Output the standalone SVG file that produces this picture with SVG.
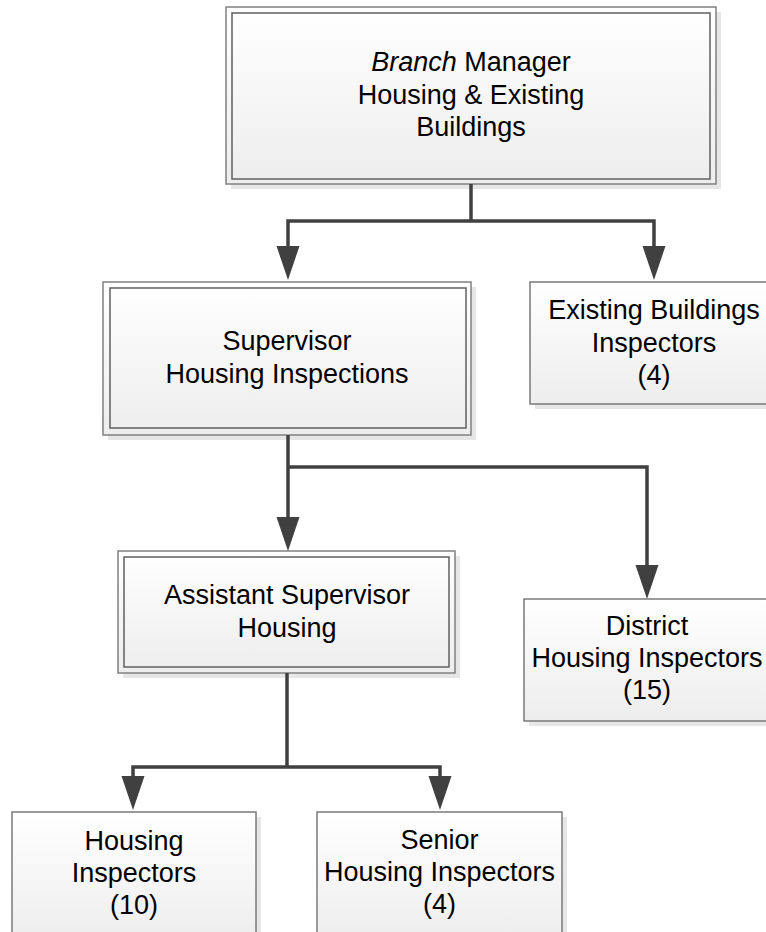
<svg xmlns="http://www.w3.org/2000/svg" width="766" height="932" viewBox="0 0 766 932">
<defs>
<linearGradient id="g" x1="0" y1="0" x2="0" y2="1">
<stop offset="0" stop-color="#ffffff"/>
<stop offset="1" stop-color="#ededed"/>
</linearGradient>
<marker id="arr" markerUnits="userSpaceOnUse" markerWidth="35" markerHeight="24" refX="0" refY="11.5" orient="auto" viewBox="0 0 35 23" overflow="visible">
<path d="M0,0 L34,11.5 L0,23 Z" fill="#404040"/>
</marker>
</defs>
<style>
.sh{fill:#e6e6e6}
.outer{fill:url(#g);stroke:#808080;stroke-width:1.5}
.inner{fill:none;stroke:#5f5f5f;stroke-width:1.5}
.single{fill:url(#g);stroke:#7a7a7a;stroke-width:1.5}
text{font-family:"Liberation Sans",Arial,sans-serif;font-size:27px;fill:#000;text-anchor:middle}
.c{fill:none;stroke:#404040;stroke-width:3.5}
</style>
<rect width="766" height="932" fill="#fff"/>

<g id="branch-manager">
<rect class="sh" x="231" y="12" width="490" height="177"/>
<rect class="outer" x="226" y="7" width="490" height="177"/>
<rect class="inner" x="232" y="13" width="478" height="166"/>
<text x="471" y="71"><tspan font-style="italic">Branch</tspan> Manager</text>
<text x="471" y="103.5">Housing &amp; Existing</text>
<text x="471" y="136">Buildings</text>
</g>

<g id="supervisor">
<rect class="sh" x="108" y="287" width="368" height="153"/>
<rect class="outer" x="103" y="282" width="368" height="153"/>
<rect class="inner" x="110" y="288" width="356" height="140"/>
<text x="287" y="350">Supervisor</text>
<text x="287" y="383">Housing Inspections</text>
</g>

<g id="existing-buildings">
<rect class="sh" x="535" y="287" width="248" height="122"/>
<rect class="single" x="530" y="282" width="248" height="122"/>
<text x="654" y="319">Existing Buildings</text>
<text x="654" y="351.5">Inspectors</text>
<text x="654" y="384">(4)</text>
</g>

<g id="assistant-supervisor">
<rect class="sh" x="123" y="556" width="337" height="122"/>
<rect class="outer" x="118" y="551" width="337" height="122"/>
<rect class="inner" x="124" y="557" width="325" height="110"/>
<text x="287" y="604">Assistant Supervisor</text>
<text x="287" y="637">Housing</text>
</g>

<g id="district">
<rect class="sh" x="529" y="604" width="246" height="122"/>
<rect class="single" x="524" y="599" width="246" height="122"/>
<text x="647" y="635">District</text>
<text x="647" y="667">Housing Inspectors</text>
<text x="647" y="699">(15)</text>
</g>

<g id="housing-inspectors">
<rect class="sh" x="17" y="817" width="244" height="130"/>
<rect class="single" x="12" y="812" width="244" height="130"/>
<text x="134" y="850">Housing</text>
<text x="134" y="882">Inspectors</text>
<text x="134" y="914">(10)</text>
</g>

<g id="senior-inspectors">
<rect class="sh" x="322" y="817" width="245" height="130"/>
<rect class="single" x="317" y="812" width="245" height="130"/>
<text x="439.5" y="849">Senior</text>
<text x="439.5" y="881">Housing Inspectors</text>
<text x="439.5" y="913">(4)</text>
</g>

<g id="connectors">
<path class="c" d="M471,184 V221"/>
<path class="c" d="M471,221 H288 V246" marker-end="url(#arr)"/>
<path class="c" d="M471,221 H654 V246" marker-end="url(#arr)"/>
<path class="c" d="M288,435 V467"/>
<path class="c" d="M288,467 V517" marker-end="url(#arr)"/>
<path class="c" d="M288,467 H647 V565" marker-end="url(#arr)"/>
<path class="c" d="M287,673 V767"/>
<path class="c" d="M287,767 H133 V776" marker-end="url(#arr)"/>
<path class="c" d="M287,767 H440 V776" marker-end="url(#arr)"/>
</g>
</svg>
